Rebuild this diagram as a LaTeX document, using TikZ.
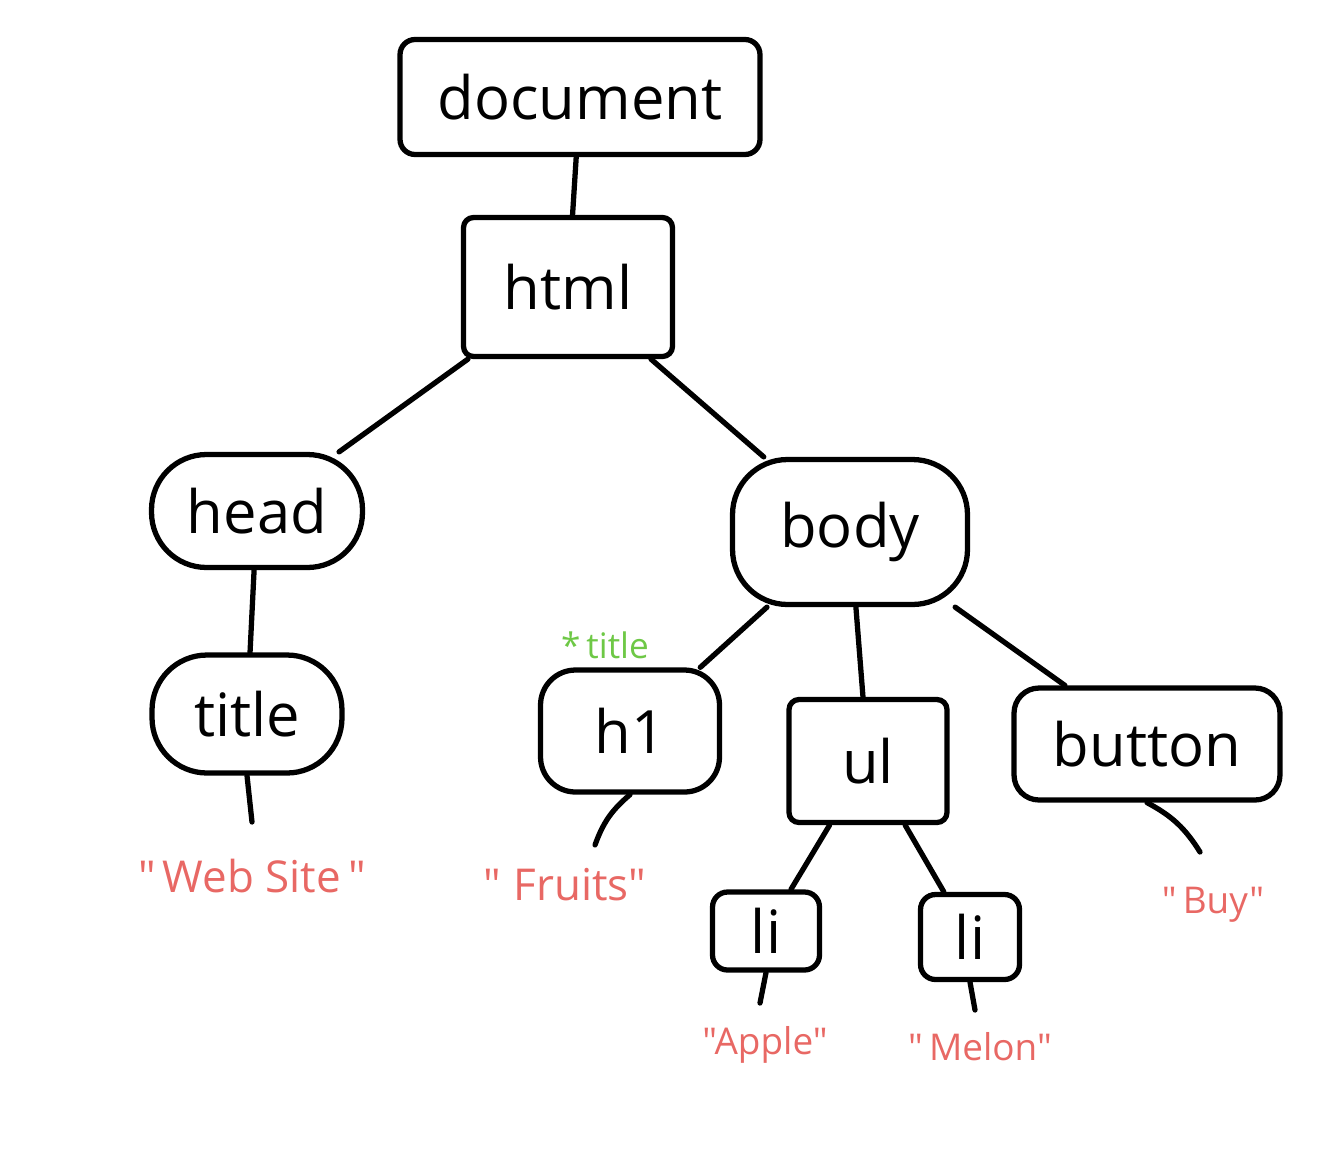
\documentclass[tikz,border=0pt]{standalone}
\usepackage{fontspec}
\setmainfont{Open Sans}[Ligatures=TeXOff]
\usetikzlibrary{calc}
\definecolor{txtred}{RGB}{232,104,100}
\definecolor{txtgreen}{RGB}{110,200,70}
\tikzset{
    tag/.style =    {rectangle,
                    fill=white,
                    draw=black,
                    text=black,
                    line width=3pt,
                    rounded corners=0.3cm,
                    inner sep=0pt,
                    font=\fontsize{34}{40}\selectfont},
    blob/.style =   {tag,
                    rounded corners=1.1cm},
    leaf/.style =   {text=txtred,
                    inner sep=0pt,
                    font=\fontsize{25}{30}\selectfont},
    small leaf/.style = {leaf,
                    font=\fontsize{21}{26}\selectfont},
    attr/.style =   {text=txtgreen,
                    inner sep=0pt,
                    font=\fontsize{20}{24}\selectfont},
    link/.style =   {draw=black,
                    line width=3pt,
                    line cap=round}}
\begin{document}
\begin{tikzpicture}[x=0.02cm,y=-0.02cm]
    \useasboundingbox (0,0) rectangle (1344,1163);
    % element nodes
    \node[tag, minimum width=7.2cm, minimum height=2.3cm]               (doc)    at (580,97)   {document};
    \node[tag, rounded corners=0.2cm, minimum width=4.18cm, minimum height=2.78cm] (html)   at (568,287)  {html};
    \node[blob, minimum width=4.22cm, minimum height=2.26cm]            (head)   at (257,511)  {head};
    \node[blob, minimum width=4.7cm, minimum height=2.9cm]              (body)   at (850,532)  {body};
    \node[blob, minimum width=3.8cm, minimum height=2.36cm]             (title)  at (247,714)  {title};
    \node[tag, rounded corners=0.7cm, minimum width=3.58cm, minimum height=2.44cm] (h1) at (630,731) {h1};
    \node[tag, rounded corners=0.2cm, minimum width=3.16cm, minimum height=2.46cm] (ul) at (868,761) {ul};
    \node[tag, rounded corners=0.5cm, minimum width=5.32cm, minimum height=2.24cm] (button) at (1147,744) {button};
    \node[tag, minimum width=2.14cm, minimum height=1.56cm]             (li1)    at (766,931)  {li};
    \node[tag, minimum width=1.98cm, minimum height=1.7cm]              (li2)    at (970,937)  {li};
    % text nodes
    \node[leaf]       (website) at (252,876)  {"\,Web Site\,"};
    \node[leaf]       (fruits)  at (565,885)  {"\;Fruits"};
    \node[small leaf] (apple)   at (765,1045) {"Apple"};
    \node[small leaf] (melon)   at (980,1047) {"\,Melon"};
    \node[small leaf] (buy)     at (1213,905) {"\,Buy"};
    \node[attr]       (h1title) at (605,645)  {*\,title};
    \coordinate (websiteT) at (252,822);
    \coordinate (fruitsT)  at (595,845);
    \coordinate (appleT)   at (760,1003);
    \coordinate (melonT)   at (975,1010);
    \coordinate (buyT)     at (1200,852);
    % tree
    \path [link]    (doc)   edge    (html)
                    (html)  edge    (head)
                    (html)  edge    (body)
                    (head)  edge    (title)
                    (body)  edge    (h1)
                    (body)  edge    (ul)
                    (body)  edge    (button)
                    (ul)    edge    (li1)
                    (ul)    edge    (li2);
    \path [link]    (title.south)   edge    (websiteT)
                    (h1.south)      edge [bend right=15]   (fruitsT)
                    (li1.south)     edge    (appleT)
                    (li2.south)     edge    (melonT)
                    (button.south)  edge [bend left=15]    (buyT);
\end{tikzpicture}
\end{document}
